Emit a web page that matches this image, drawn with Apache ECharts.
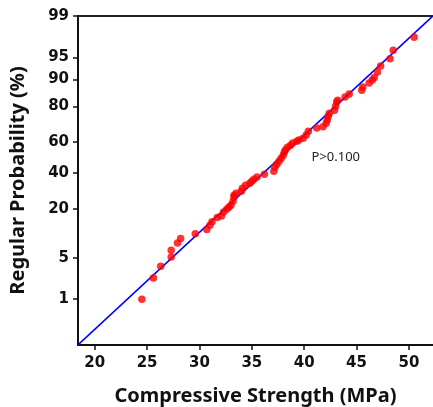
<!DOCTYPE html>
<html>
<head>
<meta charset="utf-8">
<script src="https://cdn.jsdelivr.net/npm/echarts@6/dist/echarts.min.js"></script>
<style>
  html, body { margin: 0; padding: 0; background: #fff; }
  #chart { width: 433px; height: 407px; }
</style>
</head>
<body>
<div id="chart"></div>
<script>
// compressive strength (MPa) of each specimen, sorted
const strength = [
  24.5, 25.6, 26.3, 27.3, 27.3, 27.9, 28.2, 29.6, 30.7, 31.0,
  31.2, 31.7, 32.1, 32.3, 32.6, 32.8, 33.0, 33.2, 33.3, 33.3,
  33.5, 34.0, 34.1, 34.4, 34.8, 35.0, 35.2, 35.5, 36.2, 37.1,
  37.2, 37.4, 37.6, 37.8, 38.0, 38.1, 38.2, 38.4, 38.7, 38.9,
  39.3, 39.5, 39.9, 40.2, 40.4, 41.2, 41.8, 42.1, 42.2, 42.3,
  42.4, 42.9, 43.0, 43.1, 43.2, 43.9, 44.3, 45.5, 45.6, 46.2,
  46.5, 46.7, 47.0, 47.3, 48.2, 48.5, 50.5
];
// plotting position (%) of each specimen
const probability = [
  1.0, 2.4, 3.7, 5.1, 6.4, 8.0, 9.2, 10.5, 11.9, 13.3,
  14.6, 16.2, 16.8, 18.5, 19.8, 20.7, 21.7, 23.7, 25.8, 26.8,
  27.9, 29.0, 30.7, 32.5, 33.7, 34.9, 36.1, 37.4, 39.2, 41.1,
  43.7, 45.7, 47.6, 49.6, 51.6, 53.5, 54.9, 56.8, 58.1, 59.4,
  60.6, 61.3, 62.5, 64.4, 66.8, 68.6, 69.4, 71.4, 73.1, 75.2,
  76.7, 78.2, 80.1, 81.9, 82.7, 84.0, 85.2, 86.6, 87.7, 89.0,
  89.9, 90.6, 92.0, 93.4, 94.8, 96.1, 97.6
];
const yTickLabels = [1, 5, 20, 40, 60, 80, 90, 95, 99];
const xTickLabels = [20, 25, 30, 35, 40, 45, 50];
const fitMean = 37.7;
const fitSd = 6.27;
const pValueText = 'P>0.100';

// inverse standard normal cdf (Acklam)
function normInv(p) {
  const a = [-39.69683028665376, 220.9460984245205, -275.9285104469687, 138.3577518672690, -30.66479806614716, 2.506628277459239];
  const b = [-54.47609879822406, 161.5858368580409, -155.6989798598866, 66.80131188771972, -13.28068155288572];
  const c = [-0.007784894002430293, -0.3223964580411365, -2.400758277161838, -2.549732539343734, 4.374664141464968, 2.938163982698783];
  const d = [0.007784695709041462, 0.3224671290700398, 2.445134137142996, 3.754408661907416];
  const pl = 0.02425;
  let q, r;
  if (p < pl) {
    q = Math.sqrt(-2 * Math.log(p));
    return (((((c[0]*q+c[1])*q+c[2])*q+c[3])*q+c[4])*q+c[5]) / ((((d[0]*q+d[1])*q+d[2])*q+d[3])*q+1);
  }
  if (p > 1 - pl) {
    q = Math.sqrt(-2 * Math.log(1 - p));
    return -(((((c[0]*q+c[1])*q+c[2])*q+c[3])*q+c[4])*q+c[5]) / ((((d[0]*q+d[1])*q+d[2])*q+d[3])*q+1);
  }
  q = p - 0.5;
  r = q * q;
  return (((((a[0]*r+a[1])*r+a[2])*r+a[3])*r+a[4])*r+a[5])*q / (((((b[0]*r+b[1])*r+b[2])*r+b[3])*r+b[4])*r+1);
}

const xMin = 18.4, xMax = 52.3;
const yMin = -3.08, yMax = normInv(0.99);
const yTickZ = yTickLabels.map(v => normInv(v / 100));

const points = strength.map((s, i) => [s, normInv(probability[i] / 100)]);
const fitLine = [xMin, xMax].map(x => [x, (x - fitMean) / fitSd]);

const chart = echarts.init(document.getElementById('chart'));
const tickFont = { fontFamily: 'DejaVu Sans', fontWeight: 'bold', fontSize: 15, color: '#111' };
const nameFont = { fontFamily: 'Noto Sans', fontWeight: 'bold', fontSize: 20, color: '#111' };

chart.setOption({
  animation: false,
  backgroundColor: '#fff',
  grid: { left: 78, right: 0, top: 16, bottom: 62, outerBoundsMode: 'none', containLabel: false },
  xAxis: [
    {
      type: 'value',
      position: 'bottom',
      min: xMin,
      max: xMax,
      name: 'Compressive Strength (MPa)',
      nameLocation: 'middle',
      nameGap: 41,
      nameTextStyle: nameFont,
      axisLine: { show: true, onZero: false, lineStyle: { color: '#111', width: 2 } },
      axisTick: { show: true, length: 5, customValues: xTickLabels, lineStyle: { color: '#111', width: 1.5 } },
      axisLabel: Object.assign({ margin: 11, customValues: xTickLabels }, tickFont),
      splitLine: { show: false }
    },
    {
      type: 'value',
      position: 'top',
      min: xMin,
      max: xMax,
      axisLine: { show: true, onZero: false, lineStyle: { color: '#222', width: 2 } },
      axisTick: { show: false },
      axisLabel: { show: false },
      splitLine: { show: false }
    }
  ],
  yAxis: {
    type: 'value',
    min: yMin,
    max: yMax,
    name: 'Regular Probability (%)',
    nameLocation: 'middle',
    nameGap: 50,
    nameTextStyle: nameFont,
    axisLine: { show: true, onZero: false, lineStyle: { color: '#111', width: 2 } },
    axisTick: { show: true, length: 5, customValues: yTickZ, lineStyle: { color: '#111', width: 1.5 } },
    axisLabel: Object.assign({
      margin: 9,
      customValues: yTickZ,
      formatter: v => {
        let best = yTickLabels[0];
        yTickLabels.forEach(t => { if (Math.abs(normInv(t / 100) - v) < Math.abs(normInv(best / 100) - v)) best = t; });
        return String(best);
      }
    }, tickFont),
    splitLine: { show: false }
  },
  series: [
    {
      type: 'line',
      data: fitLine,
      symbol: 'none',
      lineStyle: { color: '#0000ff', width: 1.5 },
      z: 2
    },
    {
      type: 'scatter',
      data: points,
      symbolSize: 7.5,
      itemStyle: { color: '#ff0000' },
      z: 3
    }
  ]
});

const pos = chart.convertToPixel({ gridIndex: 0 }, [fitMean + 3.0, 0]);
chart.setOption({
  graphic: [{
    type: 'text',
    x: pos[0],
    y: pos[1],
    style: { text: pValueText, fontFamily: 'Noto Sans', fontSize: 13, fill: '#222', align: 'left', verticalAlign: 'middle' }
  }]
});
</script>
</body>
</html>
